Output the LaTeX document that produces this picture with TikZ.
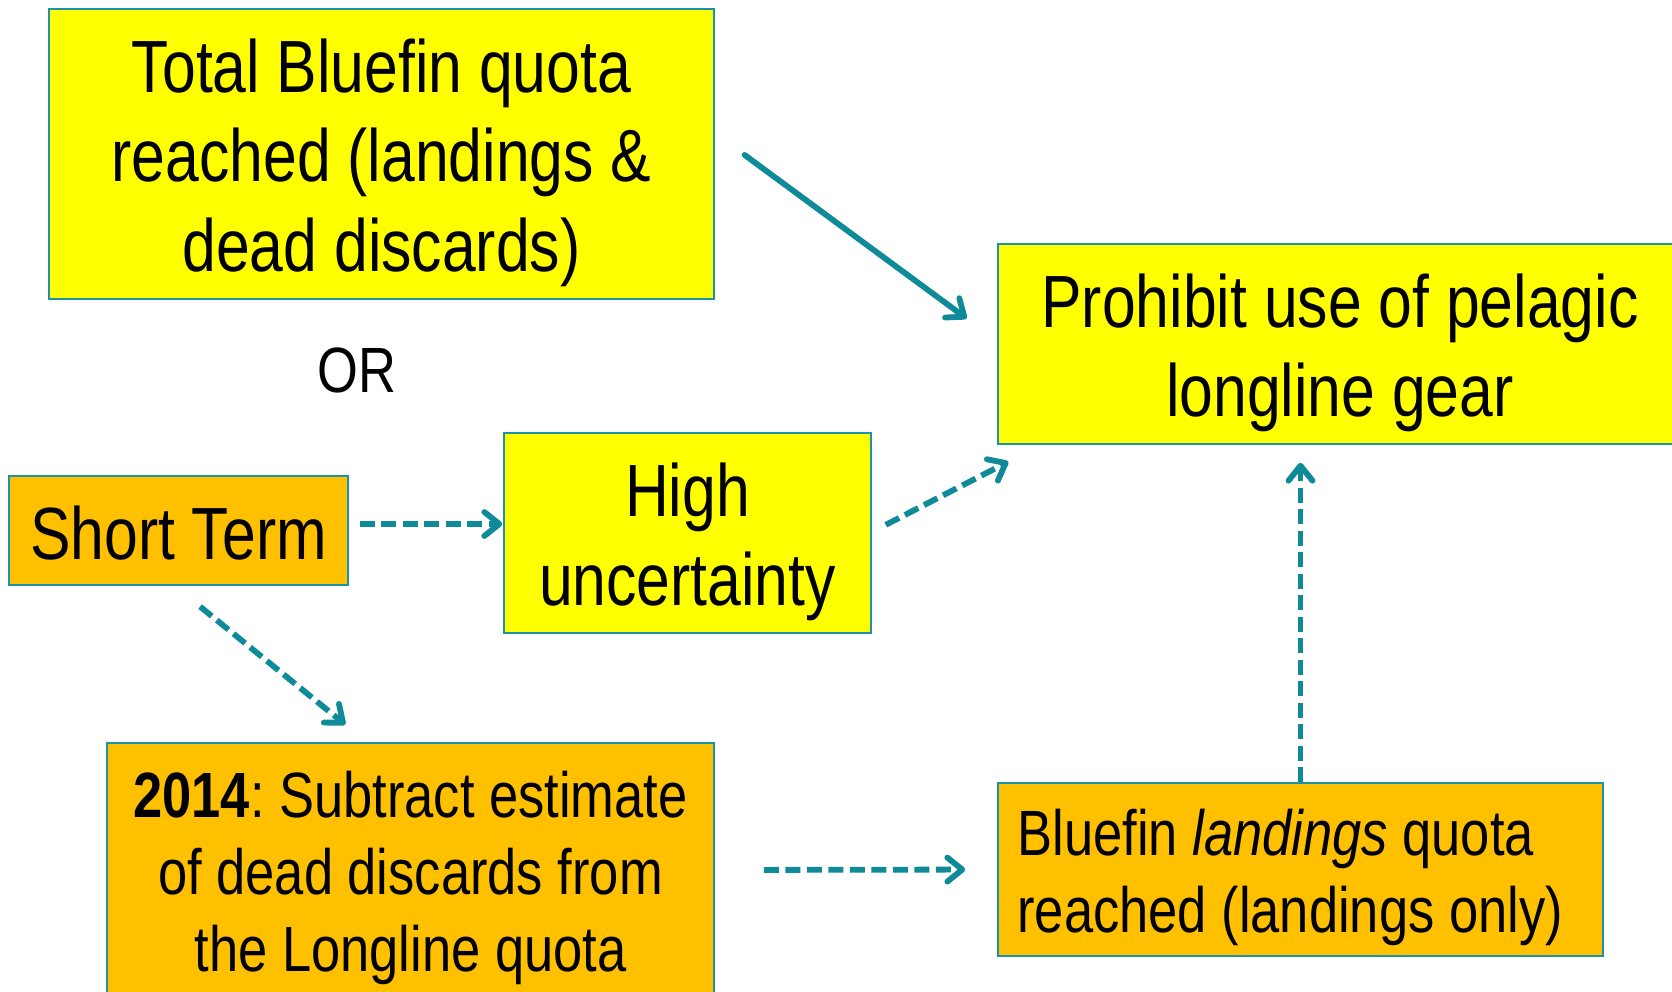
\documentclass[tikz,border=0pt]{standalone}
\usepackage{fontspec}
\setmainfont{Liberation Sans}[FakeStretch=0.82]
\usetikzlibrary{arrows.meta,calc}
\frenchspacing
\definecolor{yel}{HTML}{FFFF00}
\definecolor{org}{HTML}{FFC000}
\definecolor{teal1}{HTML}{0E8A98}
\definecolor{bord}{HTML}{1A93A6}
\tikzset{
  box/.style={draw=bord, line width=1.6pt, rectangle, inner sep=0pt},
  ybox/.style={box, fill=yel},
  obox/.style={box, fill=org},
  txt/.style={align=center, text=black, inner sep=0pt},
  big/.style={txt, font=\fontsize{74}{89.5}\selectfont},
  mid/.style={txt, font=\fontsize{64}{77}\selectfont},
  arr/.style={draw=teal1, line width=5.8pt, line cap=round,
    -{Straight Barb[length=15pt, width=24pt, line width=5.8pt, round]}},
  darr/.style={arr, line cap=butt, dash pattern=on 15pt off 6.5pt},
}
\begin{document}
\begin{tikzpicture}[x=1pt, y=-1pt]
\useasboundingbox (0,0) rectangle (1672,992);
\node[ybox, minimum width=665pt, minimum height=290pt,
  label={[big, yshift=-8.5pt]center:{Total Bluefin quota\\reached (landings \&\\dead discards)}}] (b1) at (381.5,154) {};
\node[txt, font=\fontsize{64}{77}\selectfont] (or) at (357,370) {OR};
\node[ybox, minimum width=684pt, minimum height=200pt,
  label={[big, yshift=-9pt]center:{Prohibit use of pelagic\\longline gear}}] (pr) at (1340,344) {};
\node[obox, minimum width=339pt, minimum height=109pt,
  label={[txt, font=\fontsize{74}{89}\selectfont, yshift=-3pt]center:{Short Term}}] (st) at (178.5,530.5) {};
\node[ybox, minimum width=367pt, minimum height=200pt,
  label={[big, yshift=-9pt]center:{High\\uncertainty}}] (hu) at (687.5,533) {};
\node[obox, minimum width=607pt, minimum height=258pt,
  label={[mid, yshift=-5.5pt]center:{\textbf{2014}: Subtract estimate\\of dead discards from\\the Longline quota}}] (ds) at (410.5,872) {};
\node[obox, minimum width=605pt, minimum height=173pt,
  label={[mid, align=left, anchor=west, xshift=20pt, yshift=-7.5pt]west:{Bluefin \textit{landings} quota\\reached (landings only)}}] (la) at (1300.5,869.5) {};
% connectors
\draw[arr, shorten <=37pt, shorten >=38pt]
  ($(b1.east)+(0,-21)$) -- ($(pr.west)+(0,-3)$);
\draw[darr, shorten <=11pt, shorten >=1pt]
  ($(st.east)+(0,-6.5)$) -- ($(hu.west)+(0,-9)$);
\draw[darr, shorten <=15.7pt, shorten >=37pt]
  ($(hu.east)+(0,-1)$) -- ($(pr.south west)+(44,0)$);
\draw[darr, shorten <=33pt, shorten >=28pt]
  ($(st.south)+(-4,0)$) -- ($(ds.north)+(-43.5,0)$);
\draw[darr, shorten <=49pt, shorten >=32pt]
  ($(ds.east)+(0,-2)$) -- (la.west);
\draw[darr, shorten >=18pt]
  (la.north) -- (la.north |- pr.south);
\end{tikzpicture}
\end{document}
